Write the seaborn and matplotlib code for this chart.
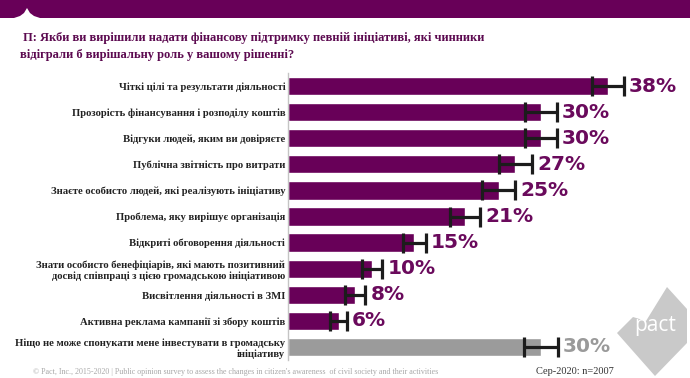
import matplotlib
matplotlib.use("Agg")
import matplotlib.pyplot as plt
import seaborn as sns
import pandas as pd
import numpy as np
from matplotlib.patches import Rectangle, Polygon

categories = [
    "Чіткі цілі та результати діяльності",
    "Прозорість фінансування і розподілу коштів",
    "Відгуки людей, яким ви довіряєте",
    "Публічна звітність про витрати",
    "Знаєте особисто людей, які реалізують ініціативу",
    "Проблема, яку вирішує організація",
    "Відкриті обговорення діяльності",
    "Знати особисто бенефіціарів, які мають позитивний\nдосвід співпраці з цією громадською ініціативою",
    "Висвітлення діяльності в ЗМІ",
    "Активна реклама кампанії зі збору коштів",
    "Ніщо не може спонукати мене інвестувати в громадську\nініціативу",
]
values = [38, 30, 30, 27, 25, 21, 15, 10, 8, 6, 30]
errors = [1.9, 1.9, 1.9, 2.0, 2.0, 1.8, 1.4, 1.2, 1.2, 1.0, 2.0]
groups = ["main"] * 10 + ["none"]
value_labels = [f"{v}%" for v in values]

title_line1 = " П: Якби ви вирішили надати фінансову підтримку певній ініціативі, які чинники"
title_line2 = "відіграли б вирішальну роль у вашому рішенні?"
footer_left = "© Pact, Inc., 2015-2020 | Public opinion survey to assess the changes in citizen's awareness  of civil society and their activities"
footer_right = "Сер-2020: n=2007"

PURPLE = "#680058"
GRAY = "#9b9b9b"
TXT_PURPLE = "#6a0a5c"
TXT_GRAY = "#9a9a9a"
SERIF = ["Liberation Serif", "DejaVu Serif"]

sns.set_theme(style="white")
plt.rcParams['font.family'] = ['DejaVu Sans']

W, H = 690, 378
fig = plt.figure(figsize=(W / 100, H / 100), dpi=100)
fig.patch.set_facecolor("white")

ax = fig.add_axes([288 / W, 1 - 360 / H, (667 - 288) / W, (360 - 73) / H])
df = pd.DataFrame({"cat": categories, "val": values, "grp": groups})
sns.barplot(data=df, y="cat", x="val", hue="grp", order=categories,
            palette={"main": PURPLE, "none": GRAY}, dodge=False, width=0.7,
            legend=False, ax=ax, orient="h", errorbar=None, saturation=1)

ypos = np.arange(len(categories))
ax.errorbar(values, ypos, xerr=errors, fmt="none", ecolor="#1c1c1c",
            elinewidth=2.3, capsize=7, capthick=2.3, zorder=5)

for i, (v, e, lab, g) in enumerate(zip(values, errors, value_labels, groups)):
    ax.text(v + e + 0.6, i, lab, va="center", ha="left", fontsize=14.5,
            fontweight="bold", color=TXT_PURPLE if g == "main" else TXT_GRAY)

ax.set_xlim(0, 45)
ax.set_ylim(len(categories) - 0.5, -0.5)
ax.set_xlabel("")
ax.set_ylabel("")
ax.set_xticks([])
ax.tick_params(axis="y", length=0, pad=2)
for t in ax.get_yticklabels():
    t.set_fontfamily(SERIF)
    t.set_fontsize(7.7)
    t.set_fontweight("bold")
    t.set_color("#222222")
for s in ["top", "right", "bottom"]:
    ax.spines[s].set_visible(False)
ax.spines["left"].set_color("#c4c4c4")
ax.spines["left"].set_linewidth(1)

# top band with notch
band_h = 18
fig.add_artist(Rectangle((0, 1 - band_h / H), 1, band_h / H, transform=fig.transFigure,
                         facecolor=PURPLE, edgecolor="none"))
notch = [(14, 18), (20, 16), (24, 13), (27, 8), (30, 13), (34, 16), (40, 18)]
fig.add_artist(Polygon([(x / W, 1 - y / H) for x, y in notch], closed=True,
                       transform=fig.transFigure, facecolor="white", edgecolor="none"))

# title
fig.text(20 / W, 1 - 38 / H, title_line1, fontsize=9, fontweight="bold",
         color="#5c0a50", va="center", ha="left", family=SERIF)
fig.text(20 / W, 1 - 55 / H, title_line2, fontsize=9, fontweight="bold",
         color="#5c0a50", va="center", ha="left", family=SERIF)

# footer
fig.text(33 / W, 1 - 372 / H, footer_left, fontsize=5.8, color="#a8a8a8",
         va="center", ha="left", family=SERIF)
fig.text(536 / W, 1 - 371 / H, footer_right, fontsize=7.5, color="#333333",
         va="center", ha="left", family=SERIF)

# pact logo
logo = [(667, 287), (687, 309), (687, 343), (655, 376), (617, 333), (633, 317), (646, 321)]
fig.add_artist(Polygon([(x / W, 1 - y / H) for x, y in logo], closed=True,
                       transform=fig.transFigure, facecolor="#c9c9c9", edgecolor="none"))
fig.text(655 / W, 1 - 326 / H, "pact", fontsize=15, color="white", va="center",
         ha="center", family=["Open Sans", "DejaVu Sans"])

fig.savefig("out.png", dpi=100)
